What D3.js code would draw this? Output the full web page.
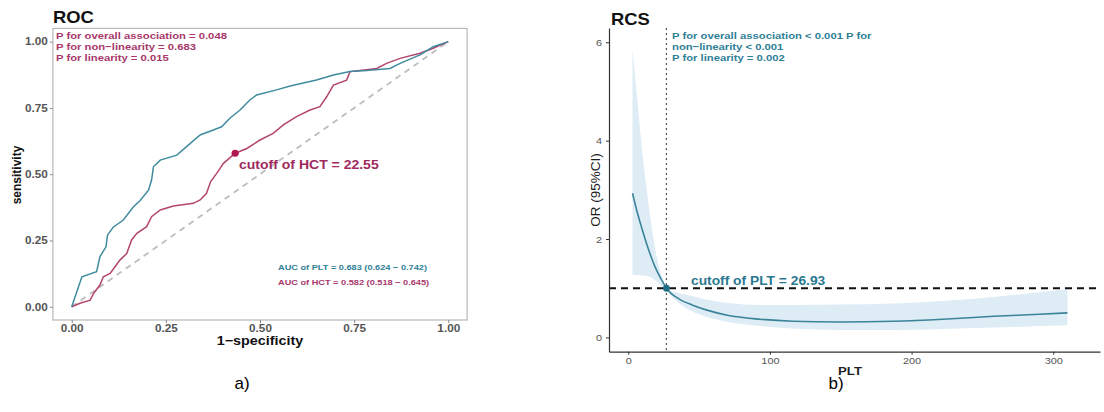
<html>
<head>
<meta charset="utf-8">
<script src="https://cdnjs.cloudflare.com/ajax/libs/d3/7.8.5/d3.min.js"></script>
<style>
  body { margin: 0; background: #fff; }
  text { font-family: "Liberation Sans", Arial, sans-serif; }
</style>
</head>
<body>
<div id="fig"></div>
<script>
// ---- ROC data ----
var pltFpr = [0, 0.027, 0.066, 0.075, 0.091, 0.095, 0.11, 0.137, 0.164, 0.181, 0.204, 0.212, 0.217, 0.235, 0.279, 0.305, 0.341, 0.376, 0.398, 0.42, 0.447, 0.473, 0.491, 0.544, 0.58, 0.65, 0.695, 0.739, 0.783, 0.845, 0.872, 0.925, 0.96, 1]
var pltTpr = [0, 0.113, 0.132, 0.189, 0.226, 0.27, 0.30, 0.327, 0.377, 0.40, 0.44, 0.478, 0.528, 0.553, 0.572, 0.604, 0.648, 0.667, 0.679, 0.711, 0.742, 0.78, 0.799, 0.818, 0.833, 0.855, 0.874, 0.887, 0.891, 0.899, 0.918, 0.95, 0.981, 1]
var hctFpr = [0, 0.022, 0.049, 0.058, 0.075, 0.084, 0.102, 0.115, 0.128, 0.146, 0.159, 0.173, 0.199, 0.212, 0.235, 0.27, 0.323, 0.341, 0.358, 0.369, 0.385, 0.403, 0.434, 0.465, 0.5, 0.535, 0.562, 0.597, 0.633, 0.659, 0.677, 0.695, 0.73, 0.739, 0.765, 0.81, 0.836, 0.872, 0.925, 0.96, 1]
var hctTpr = [0, 0.013, 0.025, 0.05, 0.082, 0.113, 0.126, 0.151, 0.176, 0.201, 0.252, 0.277, 0.302, 0.34, 0.365, 0.38, 0.39, 0.403, 0.428, 0.472, 0.503, 0.541, 0.579, 0.597, 0.629, 0.654, 0.686, 0.717, 0.742, 0.755, 0.792, 0.836, 0.855, 0.887, 0.891, 0.899, 0.918, 0.937, 0.956, 0.975, 1]
var hctCut = [0.434, 0.579]
var rocTicks = [0, 0.25, 0.5, 0.75, 1]
var rocPText = ["P for overall association = 0.048", "P for non\u2212linearity = 0.683", "P for linearity = 0.015"]
var aucText = ["AUC of PLT = 0.683 (0.624 \u2212 0.742)", "AUC of HCT = 0.582 (0.518 \u2212 0.645)"]

// ---- RCS data ----
var rcsX   = [3, 6, 10, 13, 16, 19, 22, 24.5, 26.93, 30, 36, 45, 55, 70, 93, 116, 150, 187, 222, 258, 290, 310]
var rcsOR  = [2.93, 2.58, 2.18, 1.9, 1.65, 1.43, 1.25, 1.12, 1.0, 0.9, 0.78, 0.66, 0.56, 0.45, 0.37, 0.33, 0.315, 0.33, 0.37, 0.43, 0.47, 0.5]
var rcsUp  = [5.87, 4.95, 3.75, 3.0, 2.35, 1.8, 1.4, 1.17, 1.0, 0.95, 0.9, 0.84, 0.77, 0.7, 0.66, 0.66, 0.67, 0.69, 0.74, 0.82, 0.92, 0.98]
var rcsLow = [1.27, 1.27, 1.26, 1.25, 1.22, 1.16, 1.08, 1.03, 1.0, 0.85, 0.69, 0.53, 0.42, 0.32, 0.23, 0.18, 0.15, 0.15, 0.17, 0.2, 0.23, 0.25]
var pltCut = [26.93, 1]
var rcsYTicks = [0, 2, 4, 6]
var rcsXTicks = [0, 100, 200, 300]
var rcsPText = ["P for overall association < 0.001 P for", "non\u2212linearity < 0.001", "P for linearity = 0.002"]

var SX = 1.15   // the figure is stretched sideways
var teal = "#3f8b9e", magenta = "#b3466f", magText = "#a8386b", tealText = "#2f7f97"

var svg = d3.select("#fig").append("svg")
	.attr("width", 1104).attr("height", 412)

function label(x, y, s, size, color, weight, anchor){
	return svg.append("text")
		.attr("transform", "translate(" + x + "," + y + ") scale(" + SX + ",1)")
		.attr("font-size", size)
		.attr("font-weight", weight || "bold")
		.attr("fill", color)
		.attr("text-anchor", anchor || "start")
		.text(s)
}

// ================= ROC =================
var rx = d3.scaleLinear().domain([-0.05, 1.05]).range([52.9, 467.1])
var ry = d3.scaleLinear().domain([-0.05, 1.05]).range([320, 28.4])

svg.append("rect")
	.attr("x", rx(-0.05)).attr("y", ry(1.05))
	.attr("width", rx(1.05) - rx(-0.05)).attr("height", ry(-0.05) - ry(1.05))
	.attr("fill", "none").attr("stroke", "#b8b8b8").attr("stroke-width", 1.2)

var rxAxis = svg.append("g").attr("transform", "translate(0," + ry(-0.05) + ")")
	.call(d3.axisBottom(rx).tickValues(rocTicks).tickFormat(d3.format(".2f")).tickSize(3).tickPadding(2).tickSizeOuter(0))
var ryAxis = svg.append("g").attr("transform", "translate(" + rx(-0.05) + ",0)")
	.call(d3.axisLeft(ry).tickValues(rocTicks).tickFormat(d3.format(".2f")).tickSize(3).tickPadding(1.5).tickSizeOuter(0))
;[rxAxis, ryAxis].forEach(function(a){
	a.select(".domain").remove()
	a.selectAll(".tick line").attr("stroke", "#8a8a8a")
	a.selectAll(".tick text")
		.attr("font-family", "Liberation Sans, Arial, sans-serif")
		.attr("font-size", 10.2).attr("font-weight", "bold").attr("fill", "#555")
		.attr("transform", "scale(" + SX + ",1)")
})

svg.append("line")
	.attr("x1", rx(0)).attr("y1", ry(0)).attr("x2", rx(1)).attr("y2", ry(1))
	.attr("stroke", "#bdbdbd").attr("stroke-width", 1.8).attr("stroke-dasharray", "6,5")

var rocLine = d3.line().x(function(d){ return rx(d[0]) }).y(function(d){ return ry(d[1]) })
svg.append("path").datum(d3.zip(hctFpr, hctTpr)).attr("d", rocLine)
	.attr("fill", "none").attr("stroke", magenta).attr("stroke-width", 1.5)
svg.append("path").datum(d3.zip(pltFpr, pltTpr)).attr("d", rocLine)
	.attr("fill", "none").attr("stroke", teal).attr("stroke-width", 1.5)

svg.append("circle").attr("cx", rx(hctCut[0])).attr("cy", ry(hctCut[1])).attr("r", 3.6)
	.attr("fill", "#b0194f")

label(53, 23, "ROC", 16, "#111")
rocPText.forEach(function(s, i){ label(56, 38.5 + i * 11, s, 9.8, magText) })
label(239, 168.5, "cutoff of HCT = 22.55", 12.2, "#9e2a5e")
label(278, 270, aucText[0], 8, tealText)
label(278, 284.5, aucText[1], 8, magText)
label(260, 345, "1\u2212specificity", 12.5, "#111", "bold", "middle")
svg.append("text")
	.attr("transform", "translate(21,175) rotate(-90)")
	.attr("font-size", 12).attr("font-weight", "bold").attr("fill", "#111")
	.attr("text-anchor", "middle").text("sensitivity")

// ================= RCS =================
var cx = d3.scaleLinear().domain([-13.6, 333]).range([609, 1100])
var cy = d3.scaleLinear().domain([-0.29, 6.29]).range([351.7, 28])

var band = d3.area()
	.x(function(d){ return cx(d[0]) })
	.y0(function(d){ return cy(d[2]) })
	.y1(function(d){ return cy(d[1]) })
	.curve(d3.curveMonotoneX)
svg.append("path").datum(d3.zip(rcsX, rcsUp, rcsLow)).attr("d", band)
	.attr("fill", "#deecf5").attr("stroke", "none")

svg.append("line")
	.attr("x1", cx(pltCut[0])).attr("x2", cx(pltCut[0])).attr("y1", cy(6.29)).attr("y2", cy(-0.29))
	.attr("stroke", "#555").attr("stroke-width", 1.2).attr("stroke-dasharray", "2,3")

svg.append("path").datum(d3.zip(rcsX, rcsOR))
	.attr("d", d3.line().x(function(d){ return cx(d[0]) }).y(function(d){ return cy(d[1]) }).curve(d3.curveMonotoneX))
	.attr("fill", "none").attr("stroke", "#3a8499").attr("stroke-width", 1.6)

svg.append("line")
	.attr("x1", cx(-13.6)).attr("x2", cx(333)).attr("y1", cy(1)).attr("y2", cy(1))
	.attr("stroke", "#111").attr("stroke-width", 1.8).attr("stroke-dasharray", "7,5")

svg.append("circle").attr("cx", cx(pltCut[0])).attr("cy", cy(pltCut[1])).attr("r", 3.4)
	.attr("fill", "#1f6e84")

var cxAxis = svg.append("g").attr("transform", "translate(0," + cy(-0.29) + ")")
	.call(d3.axisBottom(cx).tickValues(rcsXTicks).tickFormat(d3.format("d")).tickSize(3).tickPadding(3).tickSizeOuter(0))
var cyAxis = svg.append("g").attr("transform", "translate(" + cx(-13.6) + ",0)")
	.call(d3.axisLeft(cy).tickValues(rcsYTicks).tickFormat(d3.format("d")).tickSize(3).tickPadding(3).tickSizeOuter(0))
;[cxAxis, cyAxis].forEach(function(a){
	a.select(".domain").attr("stroke", "#333").attr("stroke-width", 1.2)
	a.selectAll(".tick line").attr("stroke", "#333")
	a.selectAll(".tick text")
		.attr("font-family", "Liberation Sans, Arial, sans-serif")
		.attr("font-size", 9.5).attr("fill", "#555")
		.attr("transform", "scale(" + SX + ",1)")
})

label(611, 25, "RCS", 16, "#111")
rcsPText.forEach(function(s, i){ label(672, 38.5 + i * 11, s, 9.8, tealText) })
label(691, 285, "cutoff of PLT = 26.93", 12, "#2a7890")
label(850, 375, "PLT", 11.5, "#222", "bold", "middle")
svg.append("text")
	.attr("transform", "translate(600,190) rotate(-90)")
	.attr("font-size", 13.5).attr("fill", "#1a1a1a")
	.attr("text-anchor", "middle").text("OR (95%CI)")

// captions
svg.append("text").attr("x", 242).attr("y", 389).attr("text-anchor", "middle")
	.attr("font-family", "Liberation Serif, Times New Roman, serif").attr("font-size", 17).text("a)")
svg.append("text").attr("x", 836).attr("y", 389).attr("text-anchor", "middle")
	.attr("font-family", "Liberation Serif, Times New Roman, serif").attr("font-size", 17).text("b)")
</script>
</body>
</html>
